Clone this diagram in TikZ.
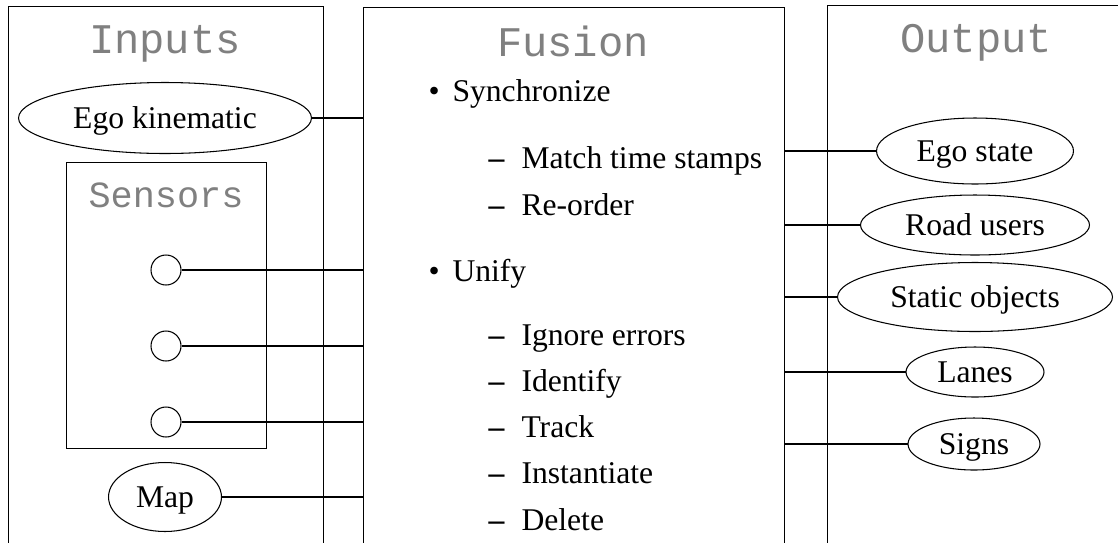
\documentclass[tikz,border=0pt]{standalone}
\usepackage{fontspec}
\setmainfont{Liberation Serif}
\setmonofont{Liberation Mono}
\usetikzlibrary{shapes.geometric,positioning}

% list markers for the fusion column
\newcommand{\fuitem}[1]{\makebox[0.48cm][l]{\textbullet}#1}
\newcommand{\fusubitem}[1]{\makebox[0.66cm][l]{\bfseries\textendash}#1}

\tikzset{
  panel/.style={draw, rectangle, anchor=north west, inner sep=0pt},
  title/.style={font=\fontsize{24}{28}\selectfont\ttfamily, text=gray, anchor=base},
  oval/.style={draw, ellipse, inner sep=0pt, text height=12pt, text depth=0pt,
    font=\fontsize{18}{21}\selectfont},
  sensor/.style={draw, circle, minimum size=0.6cm, inner sep=0pt},
  entry/.style={anchor=base west, inner sep=0pt, font=\fontsize{18}{21}\selectfont}
}

\begin{document}
\begin{tikzpicture}[x=0.02cm, y=-0.02cm, line width=0.6pt]
    \clip (0,0) rectangle (1118,542);
    % the three columns, open at the bottom
    \node[panel, minimum width=6.3cm, minimum height=12cm] (inputs) at (8,6) {};
    \node[panel, minimum width=8.42cm, minimum height=12cm] (fusion) at (363,7) {};
    \node[panel, minimum width=7cm, minimum height=12cm] (output) at (827,5) {};
    \node[title] (inputstitle) at (165,53) {Inputs};
    \node[title] (fusiontitle) at (573,56) {Fusion};
    \node[title] (outputtitle) at (976,52) {Output};

    % inputs
    \node[oval, minimum width=5.86cm, minimum height=1.42cm] (ego) at (165,118) {Ego kinematic};
    \node[panel, minimum width=4cm, minimum height=5.72cm] (sensors) at (66,162) {};
    \node[title, font=\fontsize{21}{25}\selectfont\ttfamily] (sensorstitle) at (166,207) {Sensors};
    \node[sensor] (s1) at (166,270) {};
    \node[sensor] (s2) at (166,346) {};
    \node[sensor] (s3) at (166,422) {};
    \node[oval, minimum width=2.26cm, minimum height=1.38cm] (map) at (165,497) {Map};

    % fusion steps
    \node[entry] (sync) at (428,101) {\fuitem{Synchronize}};
    \node[entry] (match) at (488,168) {\fusubitem{Match time stamps}};
    \node[entry] (reorder) at (488,215) {\fusubitem{Re-order}};
    \node[entry] (unify) at (428,281) {\fuitem{Unify}};
    \node[entry] (ignore) at (488,345) {\fusubitem{Ignore errors}};
    \node[entry] (identify) at (488,391) {\fusubitem{Identify}};
    \node[entry] (track) at (488,437) {\fusubitem{Track}};
    \node[entry] (inst) at (488,483) {\fusubitem{Instantiate}};
    \node[entry] (delete) at (488,530) {\fusubitem{Delete}};

    % outputs
    \node[oval, minimum width=3.94cm, minimum height=1.32cm] (egostate) at (975,151) {Ego state};
    \node[oval, minimum width=4.58cm, minimum height=1.2cm] (roadusers) at (975,225) {Road users};
    \node[oval, minimum width=5.5cm, minimum height=1.38cm] (static) at (975,297) {Static objects};
    \node[oval, minimum width=2.76cm, minimum height=1cm] (lanes) at (975,372) {Lanes};
    \node[oval, minimum width=2.64cm, minimum height=1.04cm] (signs) at (974,444) {Signs};

    % connections into and out of the fusion column
    \foreach \n in {ego,s1,s2,s3,map}
      \draw (\n) -- (\n -| fusion.west);
    \foreach \n in {egostate,roadusers,static,lanes,signs}
      \draw (fusion.east |- \n) -- (\n);
\end{tikzpicture}
\end{document}
